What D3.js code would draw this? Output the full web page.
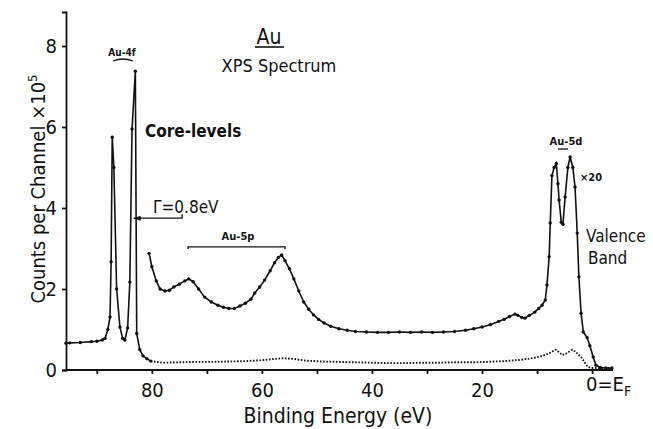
<!DOCTYPE html>
<html>
<head>
<meta charset="utf-8">
<script src="https://cdn.jsdelivr.net/npm/d3@7"></script>
<style>
	body { margin: 0; background: #fff; }
	svg { display: block; }
	text { font-family: "DejaVu Sans Condensed", "Liberation Sans Narrow", "DejaVu Sans", sans-serif; fill: #111; }
	.axis path, .axis line { stroke: #111; stroke-width: 1.8; }
	.curve { fill: none; stroke: #111; stroke-width: 1.6; }
	.dot { fill: #111; }
</style>
</head>
<body>
<svg id="chart" width="653" height="429"></svg>
<script>
// Au XPS spectrum: [binding energy eV, counts x1e5]
var coreLevels = [
	[95.6, 0.66], [94.9, 0.67], [93, 0.68], [91, 0.70], [90, 0.71], [89, 0.74], [88.5, 0.78],
	[88, 1.0], [87.6, 1.31], [87.4, 2.67], [87.2, 5.75], [86.9, 5.0], [86.4, 2.0], [85.8, 1.06],
	[85.3, 0.78], [84.9, 0.74], [84.4, 1.04], [84.0, 2.17], [83.6, 5.95], [83.0, 7.38],
	[82.75, 0.9], [82.2, 0.5], [81.6, 0.35], [80.9, 0.28], [80.2, 0.22]
];
var baseline = [
	[80.2, 0.22], [78, 0.18], [75, 0.19], [72, 0.2], [69, 0.2], [66, 0.21], [63, 0.22], [60, 0.24],
	[58, 0.27], [56, 0.29], [54, 0.27], [52, 0.23], [49, 0.21], [46, 0.2], [43, 0.19], [40, 0.18],
	[37, 0.17], [34, 0.17], [31, 0.18], [28, 0.18], [25, 0.19], [22, 0.19], [19, 0.2], [16, 0.22],
	[13, 0.25], [10.5, 0.3], [9, 0.35], [8, 0.4], [7.3, 0.45], [6.6, 0.5], [6.0, 0.44], [5.4, 0.37],
	[4.8, 0.4], [4.2, 0.45], [3.6, 0.5], [3.0, 0.45], [2.4, 0.37], [1.9, 0.3], [1.4, 0.2],
	[0.8, 0.08], [0.2, 0.05], [-0.5, 0.05], [-1.5, 0.05], [-2.5, 0.05], [-3.6, 0.05]
];
var times20 = [
	[80.5, 2.88], [80.0, 2.55], [79.2, 2.2], [78.5, 2.0], [77.6, 1.95], [76.8, 1.97], [76, 2.05],
	[75, 2.12], [74, 2.2], [73.3, 2.25], [72.5, 2.18], [71.5, 2.0], [70.4, 1.8], [69.2, 1.68],
	[68, 1.6], [67, 1.55], [66, 1.52], [65, 1.52], [64, 1.58], [63, 1.65], [62, 1.75], [61.3, 1.9],
	[60.4, 2.05], [59.5, 2.22], [58.5, 2.45], [57.7, 2.65], [57, 2.78], [56.4, 2.84], [55.8, 2.7],
	[55, 2.5], [54.2, 2.25], [53.3, 1.95], [52.4, 1.68], [51.5, 1.5], [50.6, 1.36], [49.7, 1.25],
	[48.7, 1.16], [47.5, 1.08], [46, 1.02], [44.5, 0.98], [43, 0.95], [41, 0.94], [39, 0.93],
	[37, 0.93], [35, 0.94], [33, 0.93], [31, 0.94], [29, 0.93], [27, 0.94], [25, 0.95], [23, 0.98],
	[21.5, 1.02], [20, 1.06], [18.5, 1.12], [17, 1.2], [16, 1.25], [15, 1.32], [14, 1.38],
	[13.5, 1.35], [12.8, 1.3], [12.2, 1.28], [11.4, 1.35], [10.4, 1.43], [9.7, 1.52], [9.1, 1.6],
	[8.5, 1.73], [8.2, 2.1], [7.8, 2.8], [7.6, 3.63], [7.3, 4.8], [6.9, 5.0], [6.5, 5.1], [6.2, 4.6],
	[6.0, 4.2], [5.6, 3.65], [5.3, 3.6], [4.9, 4.27], [4.4, 5.0], [4.0, 5.26], [3.5, 5.0], [3.1, 4.52],
	[2.7, 3.38], [2.4, 2.3], [2.0, 1.4], [1.6, 0.94], [0.9, 0.8], [0.4, 0.6], [-0.2, 0.32],
	[-0.7, 0.12], [-1.5, 0.06], [-2.5, 0.05], [-3.6, 0.05]
];
var yTicks = [0, 2, 4, 6, 8];
var xMajor = [80, 60, 40, 20, 0];
var xMinor = [90, 70, 50, 30, 10];

var svg = d3.select("#chart");

var x = d3.scaleLinear().domain([95.6, -3.8]).range([66, 613]);
var y = d3.scaleLinear().domain([0, 8.84]).range([370, 12]);

var line = d3.line()
	.x(function(d){ return x(d[0]); })
	.y(function(d){ return y(d[1]); });

// axes
var yAxis = d3.axisLeft(y).tickValues(yTicks).tickSize(4).tickPadding(5).tickFormat(d3.format("d"));
svg.append("g").attr("class", "axis").attr("transform", "translate(66,0)").call(yAxis)
	.call(function(g){ g.selectAll("text").style("font-size", "20px"); });

var xAxis = d3.axisBottom(x).tickValues(xMajor).tickSize(4).tickPadding(9)
	.tickFormat(function(d){ return d === 0 ? "" : d; });
svg.append("g").attr("class", "axis").attr("transform", "translate(0,370)").call(xAxis)
	.call(function(g){
		g.select(".domain").attr("d", "M66,0H613");
		g.selectAll("text").style("font-size", "20px").attr("dy", "0.71em");
	});
svg.append("g").attr("class", "axis").attr("transform", "translate(0,370)")
	.call(d3.axisBottom(x).tickValues(xMinor).tickSize(4).tickFormat(""))
	.call(function(g){ g.select(".domain").remove(); });

// 0 = E_F label
var ef = svg.append("text").attr("x", x(0) - 6).attr("y", 391).style("font-size", "20px");
ef.append("tspan").text("0=E");
ef.append("tspan").attr("dy", 5).style("font-size", "14px").text("F");

// curves
svg.append("path").datum(coreLevels).attr("class", "curve").attr("d", line);
svg.append("path").datum(baseline).attr("class", "curve")
	.style("stroke-dasharray", "1.6,1.6").style("stroke-width", 1.9).attr("d", line);
svg.append("path").datum(times20).attr("class", "curve").attr("d", line);

[coreLevels, times20].forEach(function(series){
	svg.append("g").selectAll("circle")
		.data(series)
		.enter()
		.append("circle")
		.attr("class", "dot")
		.attr("r", 1.7)
		.attr("cx", function(d){ return x(d[0]); })
		.attr("cy", function(d){ return y(d[1]); });
});

// axis titles
svg.append("text")
	.attr("transform", "translate(45,189) rotate(-90)")
	.attr("text-anchor", "middle")
	.style("font-size", "20px")
	.call(function(t){
		t.append("tspan").text("Counts per Channel \u00d710");
		t.append("tspan").attr("dy", -8).style("font-size", "13px").text("5");
	});
svg.append("text").attr("x", 338).attr("y", 423).attr("text-anchor", "middle")
	.style("font-size", "21px").text("Binding Energy (eV)");

// title
svg.append("text").attr("x", 269).attr("y", 44).attr("text-anchor", "middle")
	.style("font-size", "21px").text("Au");
svg.append("line").attr("x1", 255).attr("x2", 284).attr("y1", 47).attr("y2", 47)
	.attr("stroke", "#111").attr("stroke-width", 1.6);
svg.append("text").attr("x", 279).attr("y", 72).attr("text-anchor", "middle")
	.style("font-size", "18px").text("XPS Spectrum");

// annotations
svg.append("text").attr("x", 122).attr("y", 56).attr("text-anchor", "middle")
	.style("font-size", "10px").style("font-weight", "bold").text("Au-4f");
svg.append("path").attr("d", "M113,61Q123,57 133,61").attr("fill", "none")
	.attr("stroke", "#111").attr("stroke-width", 1.3);

svg.append("text").attr("x", 145).attr("y", 137)
	.style("font-size", "17px").style("font-weight", "bold").text("Core-levels");

var gy = y(3.75);
svg.append("path")
	.attr("d", "M" + x(83.3) + "," + gy + "H" + x(74.5) + "V" + (gy - 4))
	.attr("fill", "none").attr("stroke", "#111").attr("stroke-width", 1.4);
svg.append("path")
	.attr("d", "M" + x(83.3) + "," + gy + "l7,-2.5v5z").attr("fill", "#111");
svg.append("text").attr("x", 153).attr("y", 213)
	.style("font-size", "17px").text("\u0393=0.8eV");

var py = y(3.04);
svg.append("path")
	.attr("d", "M" + x(73.4) + "," + (py + 2) + "V" + py + "H" + x(55.8) + "V" + (py + 2))
	.attr("fill", "none").attr("stroke", "#111").attr("stroke-width", 1.4);
svg.append("text").attr("x", 238).attr("y", 240).attr("text-anchor", "middle")
	.style("font-size", "11px").style("font-weight", "bold").text("Au-5p");

svg.append("text").attr("x", 566).attr("y", 145).attr("text-anchor", "middle")
	.style("font-size", "11px").style("font-weight", "bold").text("Au-5d");
svg.append("line").attr("x1", 558).attr("x2", 568).attr("y1", 149).attr("y2", 149)
	.attr("stroke", "#111").attr("stroke-width", 1.3);
svg.append("text").attr("x", 580).attr("y", 181)
	.style("font-size", "11px").style("font-weight", "bold").text("\u00d720");

svg.append("text").attr("x", 586).attr("y", 242).style("font-size", "17px").text("Valence");
svg.append("text").attr("x", 588).attr("y", 264).style("font-size", "17px").text("Band");
</script>
</body>
</html>
